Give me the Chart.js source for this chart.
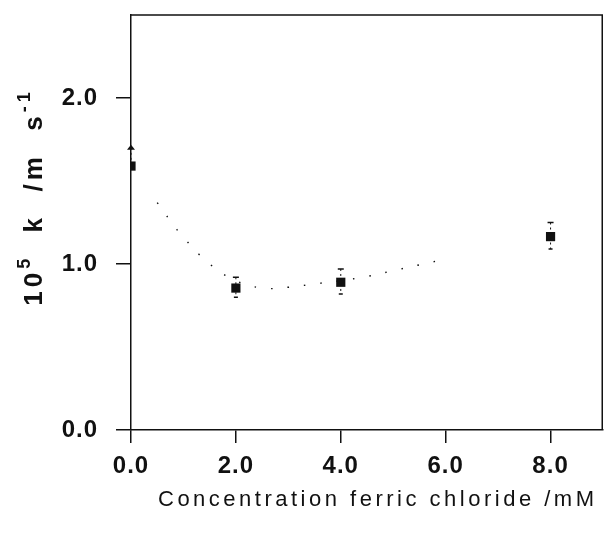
<!DOCTYPE html>
<html>
<head>
<meta charset="utf-8">
<script src="https://cdn.jsdelivr.net/npm/chart.js@4.4.1/dist/chart.umd.min.js"></script>
<style>
  html, body { margin: 0; padding: 0; background: #fff; }
  #wrap { width: 604px; height: 533px; }
</style>
</head>
<body>
<div id="wrap"><canvas id="chart" width="604" height="533"></canvas></div>
<script>
// measured points (ferric chloride mM vs 10^5 k)
var concs = [0, 2, 4, 8];
var rates = [1.59, 0.855, 0.89, 1.165];
var errLow = [1.59, 0.80, 0.82, 1.09];
var errHigh = [1.70, 0.92, 0.97, 1.25];

// dotted fit curve
var fitX = [0.5, 0.75, 1.0, 1.5, 2.0, 2.5, 3.0, 3.5, 4.0, 4.5, 5.0, 5.5, 6.0];
var fitY = [1.37, 1.26, 1.16, 1.0, 0.9, 0.855, 0.86, 0.88, 0.9, 0.925, 0.96, 0.995, 1.03];

var xTicks = [0, 2, 4, 6, 8];
var yTicks = [0, 1, 2];

var xTitle = 'Concentration ferric chloride /mM';

var ink = '#111';
var family = '"Liberation Sans", Arial, sans-serif';

var boxPlugin = {
    id: 'box',
    beforeDraw: function(chart) {
        chart.ctx.letterSpacing = '1px';
    },
    afterDatasetsDraw: function(chart) {
        var ctx = chart.ctx;
        var xs = chart.scales.x, ys = chart.scales.y;
        ctx.save();
        ctx.strokeStyle = ink;
        ctx.fillStyle = ink;
        ctx.lineWidth = 1;
        for (var i = 0; i < concs.length; i++) {
            var px = xs.getPixelForValue(concs[i]);
            var top = ys.getPixelForValue(errHigh[i]);
            var bot = ys.getPixelForValue(errLow[i]);
            ctx.setLineDash([2, 3]);
            ctx.beginPath();
            ctx.moveTo(px, top);
            ctx.lineTo(px, bot);
            ctx.stroke();
            ctx.setLineDash([]);
            if (i == 0) {
                ctx.beginPath();
                ctx.moveTo(px, top - 3);
                ctx.lineTo(px - 4, top + 2);
                ctx.lineTo(px + 4, top + 2);
                ctx.closePath();
                ctx.fill();
            } else {
                ctx.lineWidth = 1.5;
                ctx.beginPath();
                ctx.moveTo(px - 3, top); ctx.lineTo(px + 3, top);
                ctx.moveTo(px - 2, bot); ctx.lineTo(px + 2, bot);
                ctx.stroke();
                ctx.lineWidth = 1;
            }
        }
        ctx.restore();
    },
    afterDraw: function(chart) {
        var ctx = chart.ctx;
        var a = chart.chartArea;
        ctx.save();
        ctx.strokeStyle = ink;
        ctx.lineWidth = 1.5;
        ctx.beginPath();
        ctx.moveTo(a.left, a.top);
        ctx.lineTo(a.right - 0.75, a.top);
        ctx.lineTo(a.right - 0.75, a.bottom);
        ctx.stroke();

        ctx.fillStyle = ink;
        ctx.letterSpacing = '3.5px';
        ctx.textBaseline = 'alphabetic';
        ctx.font = '22px ' + family;
        ctx.textAlign = 'left';
        ctx.fillText(xTitle, 158, 506);

        // y title with superscripts
        ctx.letterSpacing = '4px';
        ctx.translate(42, 197);
        ctx.rotate(-Math.PI / 2);
        var big = 'bold 26px ' + family, small = 'bold 18px ' + family;
        var parts = [
            ['10', 0, big],
            ['5', -12, small],
            ['  k  /m  s', 0, big],
            ['-1', -12, small]
        ];
        var w = 0;
        parts.forEach(function(p) { ctx.font = p[2]; w += ctx.measureText(p[0]).width; });
        var x = -w / 2;
        parts.forEach(function(p) {
            ctx.font = p[2];
            ctx.fillText(p[0], x, p[1]);
            x += ctx.measureText(p[0]).width;
        });
        ctx.restore();
    }
};

function noPad(s) {
    s.paddingTop = 0; s.paddingBottom = 0; s.paddingLeft = 0; s.paddingRight = 0;
}

var ctx = document.getElementById('chart').getContext('2d');
var chart = new Chart(ctx, {
    type: 'scatter',
    data: {
        datasets: [{
            label: 'fit',
            data: fitX.map(function(v, i) { return {x: v, y: fitY[i]}; }),
            showLine: true,
            borderColor: ink,
            borderWidth: 1.4,
            borderDash: [1.5, 15],
            tension: 0.4,
            pointRadius: 0
        }, {
            label: 'k',
            data: concs.map(function(v, i) { return {x: v, y: rates[i]}; }),
            pointStyle: 'rect',
            pointRadius: 6.5,
            backgroundColor: ink,
            borderColor: ink,
            borderWidth: 0
        }]
    },
    options: {
        responsive: false,
        animation: false,
        layout: { autoPadding: false, padding: { top: 15, right: 1, left: 0, bottom: 0 } },
        plugins: { legend: { display: false }, tooltip: { enabled: false } },
        scales: {
            x: {
                type: 'linear',
                min: 0, max: 9,
                afterFit: function(s) { s.height = 103; noPad(s); },
                afterBuildTicks: function(s) { s.ticks = xTicks.map(function(v) { return {value: v}; }); },
                border: { display: true, color: ink, width: 1.5 },
                grid: { drawOnChartArea: false, color: ink, lineWidth: 1.5, tickLength: 13 },
                ticks: {
                    color: ink,
                    padding: 9,
                    maxRotation: 0,
                    font: { size: 24, weight: 'bold', family: family },
                    callback: function(v) { return Number(v).toFixed(1); }
                }
            },
            y: {
                type: 'linear',
                min: 0, max: 2.5,
                afterFit: function(s) { s.width = 131; noPad(s); },
                afterBuildTicks: function(s) { s.ticks = yTicks.map(function(v) { return {value: v}; }); },
                border: { display: true, color: ink, width: 1.5 },
                grid: { drawOnChartArea: false, color: ink, lineWidth: 1.5, tickLength: 15 },
                ticks: {
                    color: ink,
                    padding: 18,
                    font: { size: 24, weight: 'bold', family: family },
                    callback: function(v) { return Number(v).toFixed(1); }
                }
            }
        }
    },
    plugins: [boxPlugin]
});
</script>
</body>
</html>
